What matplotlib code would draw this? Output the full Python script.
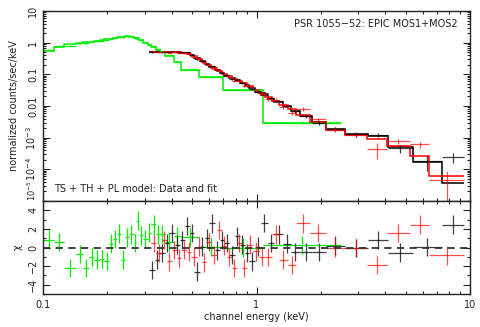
import numpy as np
import matplotlib
matplotlib.use("Agg")
import matplotlib.pyplot as plt
from matplotlib.ticker import FixedLocator, FixedFormatter, NullFormatter, LogLocator, MultipleLocator

# green spectrum: bin edges (keV), data, errors, model, residuals (chi)
green_edges = [0.100, 0.113, 0.126, 0.1435, 0.154, 0.164, 0.174, 0.184, 0.194, 0.204,
               0.213, 0.223, 0.233, 0.2434, 0.254, 0.2654, 0.274, 0.283, 0.2955, 0.3087,
               0.322, 0.338, 0.353, 0.371, 0.4087, 0.444, 0.537, 0.695, 1.078, 2.49]
green_model = [0.56, 0.74, 0.88, 0.97, 1.02, 1.08, 1.15, 1.2, 1.27, 1.33, 1.4, 1.48, 1.55,
               1.6, 1.55, 1.45, 1.32, 1.18, 1.0, 0.85, 0.72, 0.6, 0.5, 0.39, 0.24, 0.135,
               0.082, 0.033, 0.0029]
green_data = [0.58, 0.76, 0.80, 0.95, 0.95, 1.05, 1.11, 1.16, 1.22, 1.35, 1.44, 1.56, 1.48,
              1.66, 1.62, 1.48, 1.48, 1.23, 1.03, 0.9, 0.8, 0.63, 0.53, 0.40, 0.25, 0.14,
              0.083, 0.033, 0.0030]
green_err = [0.03, 0.03, 0.035, 0.035, 0.035, 0.035, 0.035, 0.035, 0.04, 0.04, 0.04, 0.04,
             0.04, 0.04, 0.04, 0.04, 0.04, 0.035, 0.03, 0.03, 0.03, 0.025, 0.02, 0.015,
             0.01, 0.006, 0.004, 0.002, 0.0003]
green_chi = [0.85, 0.6, -2.2, -0.7, -2.2, -1.0, -1.3, -1.25, -1.45, 0.4, 0.9, 1.5, -1.3,
             1.1, 1.4, 0.5, 2.9, 1.3, 0.9, 1.6, 2.5, 1.4, 1.4, 0.6, 1.2, 1.1, 0.1, 0.0, 0.25]

# MOS1 (black)
mos1_edges = [0.315, 0.333, 0.351, 0.371, 0.391, 0.413, 0.436, 0.460, 0.486, 0.512, 0.541,
              0.571, 0.602, 0.636, 0.671, 0.708, 0.747, 0.789, 0.833, 0.879, 0.927, 0.989,
              1.055, 1.126, 1.214, 1.324, 1.443, 1.590, 1.810, 2.105, 2.584, 3.311, 4.108,
              5.38, 7.36, 9.42]
mos1_model = [0.52, 0.52, 0.51, 0.50, 0.50, 0.49, 0.48, 0.46, 0.40, 0.33, 0.26, 0.21, 0.165,
              0.135, 0.11, 0.09, 0.075, 0.064, 0.054, 0.045, 0.037, 0.028, 0.022, 0.017,
              0.013, 0.0097, 0.0072, 0.0050, 0.0031, 0.0019, 0.00128, 0.0011, 5.0e-4,
              1.75e-4, 3.7e-5]
mos1_data = [0.50, 0.53, 0.50, 0.51, 0.52, 0.49, 0.49, 0.49, 0.42, 0.30, 0.26, 0.215, 0.18,
             0.133, 0.113, 0.092, 0.071, 0.067, 0.055, 0.044, 0.034, 0.028, 0.026, 0.0175,
             0.0145, 0.010, 0.0068, 0.0047, 0.0030, 0.0019, 0.00127, 0.00125, 4.6e-4,
             1.8e-4, 2.5e-4]
mos1_err = [0.02, 0.02, 0.02, 0.02, 0.02, 0.02, 0.02, 0.02, 0.018, 0.015, 0.013, 0.011,
            0.009, 0.008, 0.007, 0.006, 0.005, 0.0045, 0.004, 0.0035, 0.003, 0.0025, 0.002,
            0.0016, 0.0013, 0.001, 0.0008, 0.0006, 0.0004, 0.00025, 0.0002, 0.0002,
            0.00012, 0.00009, 0.00009]
mos1_chi = [-2.4, -1.3, -0.6, 0.5, 1.55, 0.3, 0.8, 2.3, 1.55, -2.6, 0.1, 1.0, 2.6, -0.3,
            0.8, 0.5, -0.8, 1.2, 0.3, -0.6, -1.5, 0.1, 2.65, 0.5, 1.4, 0.4, -0.5, -0.5,
            -0.5, 0.2, -0.05, 0.8, -0.55, 0.05, 2.45]

# MOS2 (red)
mos2_edges = [0.322, 0.340, 0.359, 0.379, 0.400, 0.422, 0.445, 0.470, 0.496, 0.524, 0.553,
              0.583, 0.615, 0.650, 0.686, 0.724, 0.764, 0.806, 0.851, 0.898, 0.958, 1.022,
              1.090, 1.176, 1.281, 1.397, 1.539, 1.771, 2.105, 2.584, 3.275, 4.064, 5.21,
              6.46, 9.42]
mos2_model = [0.52, 0.52, 0.51, 0.50, 0.50, 0.49, 0.47, 0.44, 0.38, 0.31, 0.245, 0.195,
              0.155, 0.128, 0.105, 0.087, 0.072, 0.061, 0.052, 0.042, 0.033, 0.026, 0.019,
              0.0145, 0.0105, 0.0078, 0.0052, 0.0031, 0.0018, 0.00125, 9.2e-4, 5.3e-4,
              2.6e-4, 6e-5]
mos2_data = [0.53, 0.50, 0.53, 0.48, 0.495, 0.47, 0.465, 0.43, 0.365, 0.31, 0.23, 0.2,
             0.15, 0.14, 0.106, 0.082, 0.062, 0.063, 0.044, 0.043, 0.032, 0.024, 0.017,
             0.016, 0.0092, 0.0062, 0.0081, 0.0038, 0.0018, 0.00125, 4.5e-4, 7.7e-4,
             6.1e-4, 4.5e-5]
mos2_err = [0.025, 0.025, 0.025, 0.025, 0.025, 0.025, 0.024, 0.022, 0.02, 0.017, 0.014,
            0.012, 0.01, 0.009, 0.008, 0.007, 0.0055, 0.005, 0.0045, 0.004, 0.0032, 0.0027,
            0.0021, 0.0017, 0.0014, 0.0009, 0.001, 0.0005, 0.0003, 0.0002, 2.4e-4,
            1.6e-4, 1.4e-4, 4.4e-5]
mos2_chi = [0.5, -0.6, 0.8, -1.5, -0.25, -1.15, -0.25, -0.43, -0.97, 0.1, -1.6, 0.6, -0.8,
            1.9, 0.2, -1.0, -2.2, 0.5, -2.2, 0.3, -0.4, -1.0, -1.0, 1.4, -1.3, -1.87, 2.6,
            1.55, 0.0, -0.05, -1.87, 1.55, 2.45, -0.85]

title_text = "PSR 1055\u221252: EPIC MOS1+MOS2"
model_text = "TS + TH + PL model: Data and fit"

plt.rcParams["font.family"] = "DejaVu Sans"
plt.rcParams["font.size"] = 7
plt.rcParams["mathtext.default"] = "regular"

fig = plt.figure(figsize=(4.8, 3.27), dpi=100)
ax1 = fig.add_axes([0.0896, 0.3853, 0.8896, 0.5811])
ax2 = fig.add_axes([0.0896, 0.1009, 0.8896, 0.2844], sharex=ax1)

sets = [
    (green_edges, green_data, green_err, green_model, green_chi, "#00ee00", 1.0),
    (mos1_edges, mos1_data, mos1_err, mos1_model, mos1_chi, "black", 0.75),
    (mos2_edges, mos2_data, mos2_err, mos2_model, mos2_chi, "red", 0.7),
]

for edges, data, err, model, chi, col, a in sets:
    edges = np.array(edges)
    lo, hi = edges[:-1], edges[1:]
    xc = np.sqrt(lo * hi)
    xerr = [xc - lo, hi - xc]
    ax1.errorbar(xc, data, xerr=xerr, yerr=err, fmt="none", ecolor=col,
                 elinewidth=0.9, alpha=a)
    ax1.stairs(model, edges, baseline=None, color=col, lw=1.1)
    ax2.errorbar(xc, chi, xerr=xerr, yerr=1.0, fmt="none", ecolor=col,
                 elinewidth=0.9, alpha=a)

ax2.axhline(0, color="#333333", ls=(0, (4, 3)), lw=1.3)

ax1.set_xscale("log")
ax1.set_yscale("log")
ax1.set_xlim(0.1, 10)
ax1.set_ylim(1e-5, 10)
ax2.set_ylim(-5, 5)

yt = [1e-5, 1e-4, 1e-3, 0.01, 0.1, 1, 10]
ylab = ["$10^{-5}$", "$10^{-4}$", "$10^{-3}$", "0.01", "0.1", "1", "10"]
ax1.yaxis.set_major_locator(FixedLocator(yt))
ax1.yaxis.set_major_formatter(FixedFormatter(ylab))
ax1.yaxis.set_minor_locator(LogLocator(base=10, subs=np.arange(2, 10), numticks=20))
ax1.yaxis.set_minor_formatter(NullFormatter())

ax2.xaxis.set_major_locator(FixedLocator([0.1, 1, 10]))
ax2.xaxis.set_major_formatter(FixedFormatter(["0.1", "1", "10"]))
ax2.xaxis.set_minor_locator(LogLocator(base=10, subs=np.arange(2, 10), numticks=20))
ax2.xaxis.set_minor_formatter(NullFormatter())
ax2.yaxis.set_major_locator(FixedLocator([-4, -2, 0, 2, 4]))
ax2.yaxis.set_minor_locator(MultipleLocator(1))

for ax in (ax1, ax2):
    ax.tick_params(which="both", direction="in", top=True, right=True, width=0.8,
                   colors="#222222", labelcolor="#222222")
    ax.tick_params(which="major", length=5)
    ax.tick_params(which="minor", length=2.5)
    for s in ax.spines.values():
        s.set_linewidth(1.0)
        s.set_color("#222222")
    for lab in ax.get_yticklabels():
        lab.set_rotation(90)
        lab.set_va("center")

# lowest label of the upper panel sits above its tick, clear of the chi labels
low_lab = ax1.get_yticklabels()[0]
low_lab.set_va("bottom")
low_lab.set_fontsize(6)

ax1.tick_params(labelbottom=False)
ax2.tick_params(axis="x", pad=4)

ax1.set_ylabel("normalized counts/sec/keV", color="#222222", labelpad=4)
ax2.set_ylabel("\u03c7", color="#222222", labelpad=4)
ax2.set_xlabel("channel energy (keV)", color="#222222", labelpad=2)

ax1.text(0.97, 0.93, title_text, transform=ax1.transAxes, ha="right", va="center",
         color="#222222")
ax1.text(0.025, 0.065, model_text, transform=ax1.transAxes, ha="left", va="center",
         color="#222222")

fig.savefig("out.png", dpi=100)
